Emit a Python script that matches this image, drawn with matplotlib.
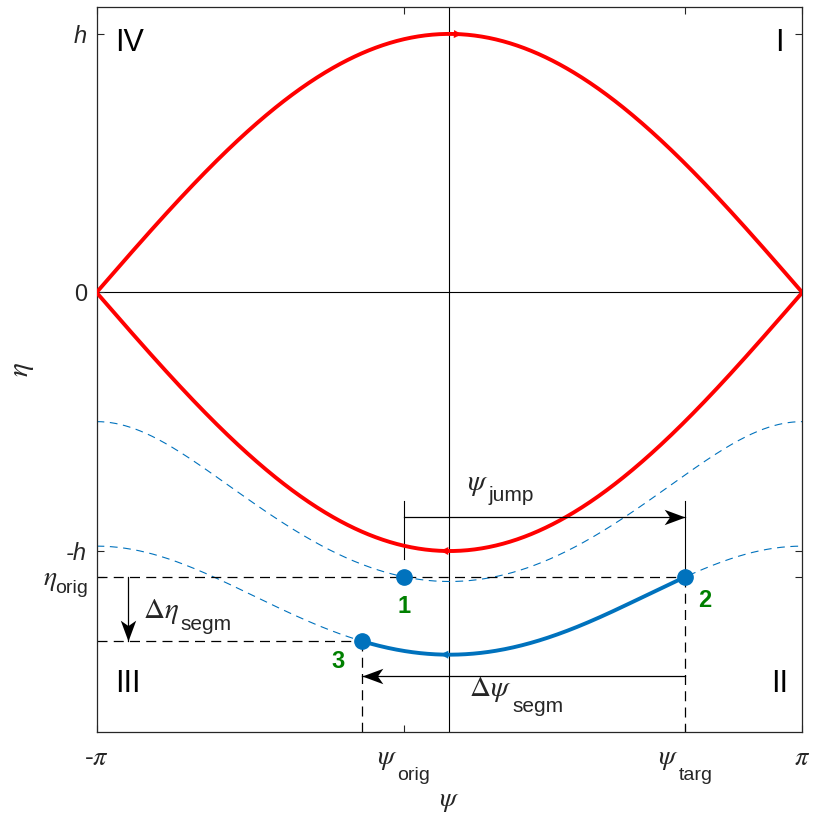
import numpy as np
import matplotlib
matplotlib.use('Agg')
import matplotlib.pyplot as plt
from matplotlib.path import Path

plt.rcParams['font.family'] = ['Liberation Sans', 'DejaVu Sans']
plt.rcParams['mathtext.fontset'] = 'stix'

# values
h = 1.0
psi_orig = -0.40      # point 1
psi_targ = 2.10       # point 2
psi_3 = -0.78         # point 3
eta_orig = -1.10      # eta of points 1 and 2
eta_jump_bar = -0.868 # level of the psi_jump arrow
eta_jump_top = -0.806 # top of the psi_jump brackets
eta_dpsi_bar = -1.484 # level of the delta psi arrow
psi_deta_bar = -2.865 # position of the delta eta arrow

x_ticks = [-np.pi, psi_orig, psi_targ, np.pi]
x_ticklabels = [r'-$\pi$', '', '', r'$\pi$']
y_ticks = [eta_orig, -h, 0, h]
y_ticklabels = ['', '-h', '0', 'h']

RED = '#FF0000'
BLUE = '#0072BD'
GREEN = '#008000'
INK = '#262626'

# phase trajectories: eta^2 = h^2 cos^2(psi/2) + E
psi = np.linspace(-np.pi, np.pi, 600)
sep = h * np.cos(psi / 2)
E1 = eta_orig ** 2 - (h * np.cos(psi_orig / 2)) ** 2
E2 = eta_orig ** 2 - (h * np.cos(psi_targ / 2)) ** 2


def traj(p, E):
    return -np.sqrt((h * np.cos(p / 2)) ** 2 + E)


eta_3 = traj(psi_3, E2)
psi_seg = np.linspace(psi_3, psi_targ, 300)

fig = plt.figure(figsize=(8.16, 8.18), dpi=100)
ax = fig.add_axes([0.1183, 0.1051, 0.8649, 0.886])

ax.axhline(0, color='black', lw=0.8, zorder=1)
ax.axvline(0, color='black', lw=0.8, zorder=1)

ax.plot(psi, traj(psi, E1), '--', color=BLUE, lw=0.8, dashes=(7, 5))
ax.plot(psi, traj(psi, E2), '--', color=BLUE, lw=0.8, dashes=(7, 5))

ax.plot(psi, sep, color=RED, lw=2.8, zorder=3)
ax.plot(psi, -sep, color=RED, lw=2.8, zorder=3)
ax.plot(psi_seg, traj(psi_seg, E2), color=BLUE, lw=2.8, zorder=3)


def flow_arrow(f, x0, x1, color):
    ax.annotate('', xy=(x1, f(x1)), xytext=(x0, f(x0)),
                arrowprops=dict(arrowstyle='-|>,head_length=0.55,head_width=0.28',
                                color=color, lw=0.1, shrinkA=0, shrinkB=0),
                zorder=4)


flow_arrow(lambda p: h * np.cos(p / 2), 0.0, 0.11, RED)
flow_arrow(lambda p: -h * np.cos(p / 2), 0.0, -0.08, RED)
flow_arrow(lambda p: traj(p, E2), 0.0, -0.08, BLUE)

# construction lines
ybot = -1.70
dash_kw = dict(color='black', lw=0.9, ls=(0, (8, 5)), zorder=2)
ax.plot([-np.pi, psi_targ], [eta_orig, eta_orig], **dash_kw)
ax.plot([-np.pi, psi_3], [eta_3, eta_3], **dash_kw)
ax.plot([psi_3, psi_3], [eta_3, ybot], **dash_kw)
ax.plot([psi_targ, psi_targ], [eta_orig, ybot], **dash_kw)

ax.plot([psi_orig, psi_orig], [eta_jump_top, eta_orig + 0.07], color='black', lw=0.8)
ax.plot([psi_targ, psi_targ], [eta_jump_top, eta_orig], color='black', lw=0.8)

# measuring arrows: shaft + notched head marker (tip at the path origin)
head_r = Path([(0, 0), (-1, 0.37), (-0.74, 0), (-1, -0.37), (0, 0)])
head_l = Path([(0, 0), (1, 0.37), (0.74, 0), (1, -0.37), (0, 0)])
head_d = Path([(0, 0), (0.37, 1), (0, 0.74), (-0.37, 1), (0, 0)])


def measure_arrow(x0, y0, x1, y1, head):
    ax.plot([x0, x1], [y0, y1], color='black', lw=0.9, zorder=4)
    ax.plot([x1], [y1], marker=head, ms=30, color='black', mew=0, zorder=4)


measure_arrow(psi_orig, eta_jump_bar, psi_targ, eta_jump_bar, head_r)
measure_arrow(psi_targ, eta_dpsi_bar, psi_3, eta_dpsi_bar, head_l)
measure_arrow(psi_deta_bar, eta_orig, psi_deta_bar, eta_3, head_d)

# points
pts_psi = [psi_orig, psi_targ, psi_3]
pts_eta = [eta_orig, eta_orig, eta_3]
ax.plot(pts_psi, pts_eta, 'o', color=BLUE, ms=11, zorder=5)
for lab, px, py, off in zip(['1', '2', '3'], pts_psi, pts_eta,
                            [(0, -21), (14, -17), (-17, -15)]):
    ax.annotate(lab, (px, py), xytext=off, textcoords='offset points',
                ha='center', va='center', color=GREEN, fontsize=17,
                fontweight='bold')


def sub_label(xy, coords, greek, sub, g_off, s_off, gsize, ssize):
    # greek symbol plus a lowered upright subscript (offsets in pixels)
    ax.annotate(greek, xy, xycoords=coords, xytext=g_off, textcoords='offset pixels',
                ha='center', va='center', fontsize=gsize, color=INK,
                annotation_clip=False)
    ax.annotate(sub, xy, xycoords=coords, xytext=s_off, textcoords='offset pixels',
                ha='left', va='baseline', fontsize=ssize, color=INK,
                annotation_clip=False)


# annotation labels
sub_label((psi_orig, eta_jump_bar), 'data', r'$\psi$', 'jump', (73, 33), (84, 16), 21, 15)
sub_label((psi_targ, eta_dpsi_bar), 'data', r'$\Delta\psi$', 'segm', (-195, -13), (-173, -36), 21, 15)
sub_label((psi_deta_bar, eta_orig), 'data', r'$\Delta\eta$', 'segm', (33, -35), (53, -53), 21, 15)

# composite tick labels
xt = ax.get_xaxis_transform()
yt = ax.get_yaxis_transform()
for tx, name in [(psi_orig, 'orig'), (psi_targ, 'targ')]:
    sub_label((tx, 0), xt, r'$\psi$', name, (-17, -27), (-7, -48), 20, 14)
sub_label((0, eta_orig), yt, r'$\eta$', 'orig', (-46, -3), (-41, -16), 20, 14)

quad_kw = dict(transform=ax.transAxes, fontsize=22, va='center')
ax.text(0.026, 0.951, 'IV', ha='left', **quad_kw)
ax.text(0.968, 0.951, 'I', ha='center', **quad_kw)
ax.text(0.026, 0.0656, 'III', ha='left', **quad_kw)
ax.text(0.968, 0.0656, 'II', ha='center', **quad_kw)

ax.set_xlim(-np.pi, np.pi)
ax.set_ylim(ybot, 1.103)
ax.set_xticks(x_ticks)
ax.set_xticklabels(x_ticklabels)
ax.set_yticks(y_ticks)
ax.set_yticklabels(y_ticklabels)
ax.tick_params(direction='in', length=5, width=0.8, top=True, right=True,
               labelsize=17, colors=INK)
ax.tick_params(axis='x', pad=10, labelsize=19)
ax.tick_params(axis='y', pad=7)
for lbl in ax.get_yticklabels():
    if 'h' in lbl.get_text():
        lbl.set_fontstyle('italic')
for s in ax.spines.values():
    s.set_color(INK)
    s.set_linewidth(0.9)

ax.set_xlabel(r'$\psi$', fontsize=20, color=INK)
ax.set_ylabel(r'$\eta$', fontsize=21, color=INK)
ax.xaxis.set_label_coords(0.5, -0.077)
ax.yaxis.set_label_coords(-0.086, 0.5)

fig.savefig('out.png', dpi=100)
